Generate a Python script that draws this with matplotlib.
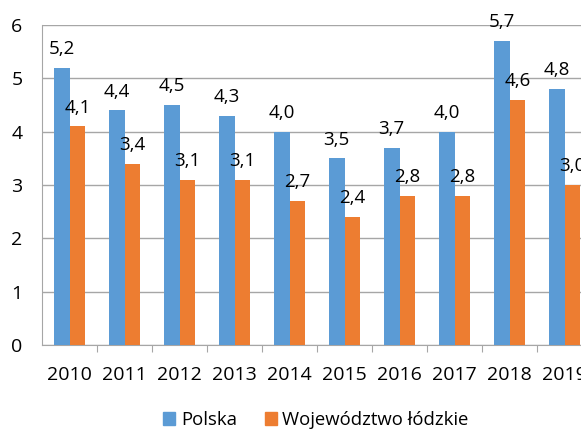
import numpy as np
import matplotlib.pyplot as plt
from matplotlib.patches import Patch

years = ['2010', '2011', '2012', '2013', '2014', '2015', '2016', '2017', '2018', '2019']
polska = [5.2, 4.4, 4.5, 4.3, 4.0, 3.5, 3.7, 4.0, 5.7, 4.8]
lodzkie = [4.1, 3.4, 3.1, 3.1, 2.7, 2.4, 2.8, 2.8, 4.6, 3.0]
series_names = ['Polska', 'Województwo łódzkie']
colors = ['#5B9BD5', '#ED7D31']

plt.rcParams['font.family'] = ['Open Sans', 'DejaVu Sans']

fig = plt.figure(figsize=(5.81, 4.30), dpi=100)
ax = fig.add_axes([42 / 581, 85 / 430, 550 / 581, 320 / 430])

x = np.arange(len(years))
w = 0.29
b1 = ax.bar(x - w / 2, polska, w, color=colors[0], zorder=3)
b2 = ax.bar(x + w / 2, lodzkie, w, color=colors[1], zorder=3)

# value labels, decimal comma
for bars, vals in ((b1, polska), (b2, lodzkie)):
    for rect, v in zip(bars, vals):
        ax.annotate(f'{v:.1f}'.replace('.', ','),
                    (rect.get_x() + rect.get_width() / 2, v),
                    xytext=(0, 7), textcoords='offset points',
                    ha='center', va='bottom', fontsize=13.5, color='#000000')

ax.set_xlim(-0.5, len(years) - 0.5)
ax.set_ylim(0, 6)
ax.set_yticks(range(0, 7))
ax.tick_params(axis='y', length=0, pad=14, labelsize=14)
ax.yaxis.grid(True, color='#A6A6A6', linewidth=1)
ax.set_axisbelow(True)

ax.set_xticks(x[:-1] + 0.5)
ax.set_xticklabels([])
ax.tick_params(axis='x', which='major', length=5, color='#A6A6A6')
ax.set_xticks(x, minor=True)
ax.set_xticklabels(years, minor=True)
ax.tick_params(axis='x', which='minor', length=0, pad=15, labelsize=14)

for side in ('top', 'right'):
    ax.spines[side].set_visible(False)
for side in ('left', 'bottom'):
    ax.spines[side].set_color('#A6A6A6')

handles = [Patch(color=c) for c in colors]
fig.legend(handles, series_names, loc='center', bbox_to_anchor=(316 / 581, 1 - 420 / 430),
           ncol=2, frameon=False, fontsize=13.3, handlelength=0.65, handleheight=0.65,
           handletextpad=0.3, columnspacing=1.5)

fig.savefig('out.png', dpi=100)
